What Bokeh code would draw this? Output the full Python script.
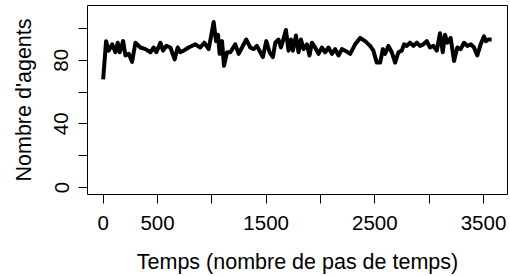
from bokeh.plotting import figure
from bokeh.models import FixedTicker, Range1d
from bokeh.embed import file_html
from bokeh.resources import INLINE

# Temps (nombre de pas de temps)
temps = [0, 27, 52, 83, 113, 134, 153, 184, 205, 236, 266, 297, 343, 389, 435, 465, 490, 527, 551, 582,
         619, 658, 686, 710, 741, 787, 848, 894, 931, 971, 993, 1017, 1039, 1057, 1072, 1094, 1112, 1140, 1170, 1216,
         1247, 1278, 1317, 1354, 1385, 1415, 1446, 1470, 1501, 1532, 1562, 1584, 1614, 1636, 1654, 1682, 1706, 1728, 1746, 1774,
         1798, 1820, 1844, 1875, 1899, 1921, 1951, 1982, 2013, 2043, 2074, 2105, 2135, 2166, 2197, 2227, 2273, 2319, 2365, 2411,
         2457, 2487, 2518, 2549, 2574, 2595, 2625, 2656, 2687, 2717, 2748, 2769, 2794, 2824, 2855, 2886, 2916, 2947, 2978, 3008,
         3039, 3070, 3100, 3125, 3146, 3168, 3198, 3229, 3259, 3290, 3321, 3351, 3385, 3413, 3443, 3474, 3505, 3523, 3544, 3575]

# Nombre d'agents
agents = [68, 92, 86, 90, 85, 91, 85, 92, 83, 84, 79, 91, 88, 87, 85, 88, 85, 91, 86, 89,
          88, 80.5, 88, 85, 86, 88, 90, 88, 91, 87, 95, 104, 92, 96, 84, 92, 76.5, 85, 85, 90,
          84, 88, 93, 88, 87, 89, 85, 82, 92, 85, 82, 91, 93, 88, 92, 99, 86, 93, 86, 95.5,
          85, 93, 87, 90, 83, 91, 88, 84, 88, 85, 88, 84, 87, 83, 87, 86, 84, 90, 94, 92,
          89, 86, 78.5, 78.5, 87, 84, 89, 85, 78.5, 85, 86, 90, 89, 91, 89, 91, 89, 90, 92, 88,
          89, 86, 97, 85, 96, 91, 94, 79.5, 88, 87, 91, 89, 90, 88, 83, 90, 95, 92, 93, 93]

x_ticks = [0, 500, 1000, 1500, 2000, 2500, 3000, 3500]
x_tick_labels = {0: "0", 500: "500", 1000: "", 1500: "1500", 2000: "", 2500: "2500", 3000: "", 3500: "3500"}
y_ticks = [0, 20, 40, 60, 80, 100]
y_tick_labels = {0: "0", 20: "", 40: "40", 60: "", 80: "80", 100: ""}

FONT = "Liberation Sans"

p = figure(width=510, height=276, output_backend="svg", toolbar_location=None,
           x_range=Range1d(-144, 3721), y_range=Range1d(-4.4, 114.4),
           min_border_left=87, min_border_right=3, min_border_top=5, min_border_bottom=80,
           x_axis_label="Temps (nombre de pas de temps)", y_axis_label="Nombre d'agents")

p.line(temps, agents, line_color="black", line_width=4, line_join="round")

p.grid.visible = False
p.outline_line_color = "black"
p.outline_line_width = 1
p.background_fill_color = "white"
p.border_fill_color = "white"

for ax in (p.xaxis[0], p.yaxis[0]):
    ax.axis_line_color = None
    ax.major_tick_in = 0
    ax.major_tick_out = 9
    ax.major_tick_line_color = "black"
    ax.minor_tick_line_color = None
    ax.major_label_text_font = FONT
    ax.major_label_text_font_size = "20.5px"
    ax.major_label_text_color = "black"
    ax.axis_label_text_font = FONT
    ax.axis_label_text_font_size = "21.5px"
    ax.axis_label_text_font_style = "normal"
    ax.axis_label_text_color = "black"

p.xaxis[0].ticker = FixedTicker(ticks=x_ticks)
p.xaxis[0].major_label_overrides = x_tick_labels
p.xaxis[0].major_label_standoff = 12
p.xaxis[0].axis_label_standoff = 17

p.yaxis[0].ticker = FixedTicker(ticks=y_ticks)
p.yaxis[0].major_label_overrides = y_tick_labels
p.yaxis[0].major_label_orientation = "vertical"
p.yaxis[0].major_label_standoff = 10
p.yaxis[0].axis_label_standoff = 16

open("out.html", "w").write(file_html(p, INLINE))
